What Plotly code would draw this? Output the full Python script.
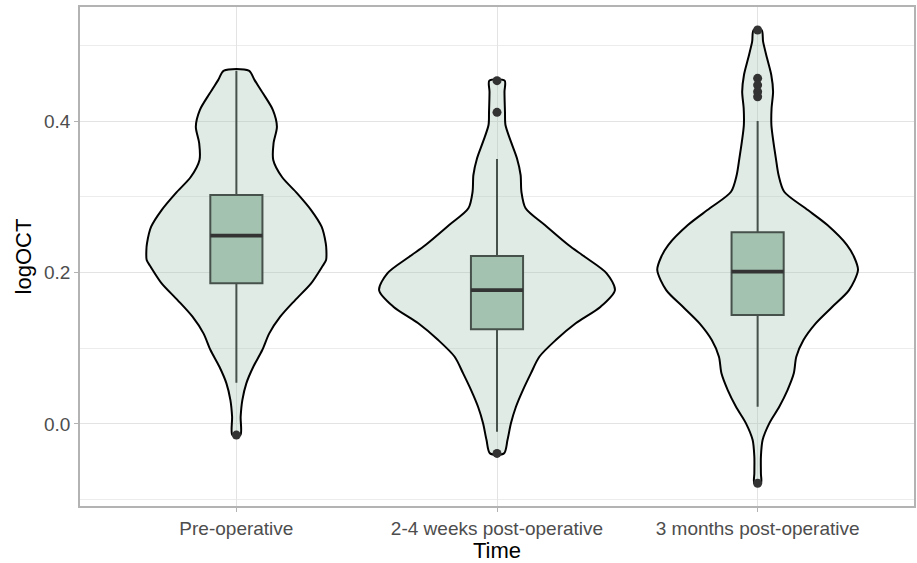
import plotly.graph_objects as go

# ---------------- data ----------------
categories = ["Pre-operative", "2-4 weeks post-operative", "3 months post-operative"]

# violin outlines: logOCT levels and half-widths (category units)
v1_y = [-0.0148, 0.0094, 0.0314, 0.0535, 0.0754, 0.0975, 0.1195, 0.1415, 0.1635, 0.1856,
        0.2075, 0.2164, 0.2296, 0.2384, 0.2604, 0.2824, 0.3045, 0.3260, 0.3485, 0.3705,
        0.3925, 0.4145, 0.4366, 0.4540, 0.4665]
v1_w = [0.0153, 0.0164, 0.0229, 0.0382, 0.0650, 0.0994, 0.1262, 0.1683, 0.2256, 0.2868,
        0.3289, 0.3442, 0.3453, 0.3430, 0.3270, 0.2868, 0.2333, 0.1751, 0.1415, 0.1426,
        0.1556, 0.1403, 0.1021, 0.0700, 0.0478]

v2_y = [-0.0390, -0.0214, 0.0007, 0.0226, 0.0446, 0.0667, 0.0886, 0.1107, 0.1328, 0.1547,
        0.1767, 0.1988, 0.2207, 0.2362, 0.2626, 0.2847, 0.3066, 0.3287, 0.3507, 0.3727,
        0.3947, 0.4115, 0.4387, 0.4533]
v2_w = [0.0268, 0.0402, 0.0535, 0.0727, 0.0994, 0.1300, 0.1625, 0.2256, 0.3021, 0.3977,
        0.4524, 0.4207, 0.3365, 0.2742, 0.1836, 0.1098, 0.0937, 0.0906, 0.0765, 0.0535,
        0.0325, 0.0306, 0.0287, 0.0294]

v3_y = [-0.0786, -0.0654, -0.0434, -0.0214, 0.0007, 0.0226, 0.0446, 0.0667, 0.0886, 0.1107,
        0.1328, 0.1547, 0.1767, 0.2032, 0.2207, 0.2362, 0.2626, 0.2847, 0.3066, 0.3287,
        0.3507, 0.3727, 0.3947, 0.4168, 0.4387, 0.4608, 0.4828, 0.5048, 0.5202]
v3_w = [0.0126, 0.0126, 0.0126, 0.0191, 0.0447, 0.0830, 0.1147, 0.1388, 0.1484, 0.1759,
        0.2229, 0.2868, 0.3507, 0.3851, 0.3698, 0.3430, 0.2677, 0.1836, 0.1021, 0.0803,
        0.0700, 0.0604, 0.0528, 0.0535, 0.0593, 0.0524, 0.0363, 0.0210, 0.0153]

# box-plot statistics
q1 = [0.1856, 0.1248, 0.1437]
median = [0.2485, 0.1767, 0.2010]
q3 = [0.3022, 0.2217, 0.2530]
lower_whisker = [0.0543, -0.0104, 0.0226]
upper_whisker = [0.4665, 0.3498, 0.4000]

# outliers
outliers = [
    [-0.0148],
    [0.4533, 0.4115, -0.0390],
    [0.5202, 0.4564, 0.4475, 0.4387, 0.4320, -0.0786],
]

violins = [(v1_y, v1_w), (v2_y, v2_w), (v3_y, v3_w)]

# ---------------- styling ----------------
VIOLIN_FILL = "rgba(163,194,176,0.33)"
BOX_FILL = "#a3c2b0"
DARK = "#333333"
BOX_WIDTH = 0.2
FONT = "Liberation Sans, Arial, Helvetica, sans-serif"

fig = go.Figure()

for i, (ys, ws) in enumerate(violins):
    xs = [i + w for w in ws] + [i - w for w in reversed(ws)]
    yy = list(ys) + list(reversed(ys))
    xs.append(xs[0])
    yy.append(yy[0])
    fig.add_trace(go.Scatter(
        x=xs, y=yy, mode="lines", fill="toself", fillcolor=VIOLIN_FILL,
        line=dict(color="black", width=2, shape="spline", smoothing=0.8),
        hoverinfo="skip", showlegend=False))

for i in range(len(categories)):
    fig.add_trace(go.Box(
        x=[i], q1=[q1[i]], median=[median[i]], q3=[q3[i]],
        lowerfence=[lower_whisker[i]], upperfence=[upper_whisker[i]],
        width=BOX_WIDTH, whiskerwidth=0, fillcolor=BOX_FILL,
        line=dict(color="#1a1a1a", width=2), boxpoints=False, showlegend=False))
    # thicker median line (ggplot fatten)
    fig.add_trace(go.Scatter(
        x=[i - BOX_WIDTH / 2, i + BOX_WIDTH / 2], y=[median[i], median[i]],
        mode="lines", line=dict(color=DARK, width=3.8), hoverinfo="skip",
        showlegend=False))
    fig.add_trace(go.Scatter(
        x=[i] * len(outliers[i]), y=outliers[i], mode="markers",
        marker=dict(color=DARK, size=9), showlegend=False))

fig.update_layout(
    width=917, height=563,
    margin=dict(l=80, r=1, t=7, b=57),
    plot_bgcolor="white", paper_bgcolor="white",
    boxmode="overlay",
    font=dict(family=FONT, color="black"),
    showlegend=False,
)

fig.update_xaxes(
    range=[-0.6, 2.6], tickmode="array", tickvals=[0, 1, 2], ticktext=categories,
    showgrid=True, gridcolor="#e3e3e3", gridwidth=1, zeroline=False,
    showline=True, mirror=True, linecolor="#b3b3b3", linewidth=1.5,
    ticks="outside", ticklen=4, tickcolor="#b3b3b3", tickwidth=1,
    tickfont=dict(size=19, color="#4d4d4d", family=FONT),
    title=dict(text="Time", font=dict(size=22, color="black", family=FONT), standoff=1),
)

fig.update_yaxes(
    range=[-0.1085, 0.5506], tickmode="array", tickvals=[0.0, 0.2, 0.4],
    ticktext=["0.0", "0.2", "0.4"],
    showgrid=True, gridcolor="#e3e3e3", gridwidth=1, zeroline=False,
    minor=dict(tickvals=[-0.1, 0.1, 0.3, 0.5], showgrid=True, gridcolor="#ececec",
               gridwidth=1, ticks=""),
    showline=True, mirror=True, linecolor="#b3b3b3", linewidth=1.5,
    ticks="outside", ticklen=4, tickcolor="#b3b3b3", tickwidth=1,
    tickfont=dict(size=19, color="#4d4d4d", family=FONT),
    title=dict(text="logOCT", font=dict(size=22, color="black", family=FONT), standoff=6),
)

fig.write_html("out.html", config={"displayModeBar": False},
               post_script="document.body.style.margin='0';document.body.style.padding='0';")
